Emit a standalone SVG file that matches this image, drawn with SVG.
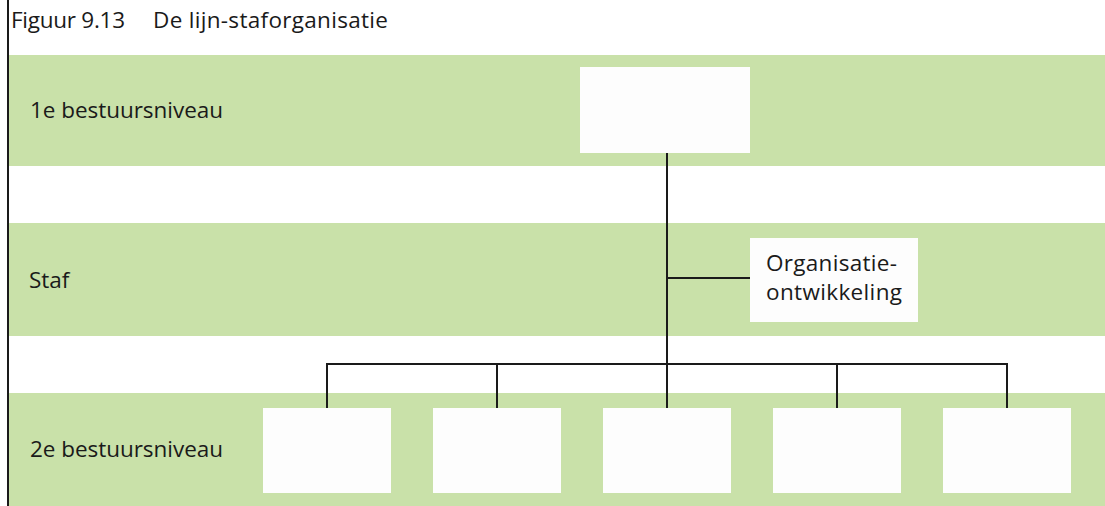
<svg xmlns="http://www.w3.org/2000/svg" width="1105" height="506" viewBox="0 0 1105 506">
  <style>
    .band { fill: #c9e1a9; }
    .box { fill: #fdfdfd; }
    .lbl { font-family: "Open Sans", "Noto Sans", sans-serif; font-size: 22.5px; fill: #1a1a1a; }
    .conn { stroke: #1a1a1a; stroke-width: 2; fill: none; }
  </style>
  <rect width="1105" height="506" fill="#ffffff"/>
  <!-- level bands -->
  <rect class="band" x="9" y="55" width="1096" height="111"/>
  <rect class="band" x="9" y="223" width="1096" height="113"/>
  <rect class="band" x="9" y="393" width="1096" height="113"/>
  <line x1="8" y1="0" x2="8" y2="506" stroke="#1a1a1a" stroke-width="2"/>
  <text class="lbl" x="11" y="28" textLength="114">Figuur 9.13</text>
  <text class="lbl" x="153" y="28" textLength="235">De lijn-staforganisatie</text>
  <text class="lbl" x="30" y="118" textLength="193">1e bestuursniveau</text>
  <text class="lbl" x="29" y="288">Staf</text>
  <text class="lbl" x="30" y="457" textLength="193">2e bestuursniveau</text>

  <g id="connectors">
    <line class="conn" x1="667" y1="153" x2="667" y2="408"/>
    <line class="conn" x1="667" y1="278" x2="750" y2="278"/>
    <line class="conn" x1="327" y1="364" x2="1007" y2="364"/>
    <line class="conn" x1="327" y1="363" x2="327" y2="408"/>
    <line class="conn" x1="497" y1="363" x2="497" y2="408"/>
    <line class="conn" x1="837" y1="363" x2="837" y2="408"/>
    <line class="conn" x1="1007" y1="363" x2="1007" y2="408"/>
  </g>

  <g id="top"><rect class="box" x="580" y="67" width="170" height="86"/></g>
  <g id="staf">
    <rect class="box" x="750" y="238" width="168" height="84"/>
    <text class="lbl" x="766" y="271" textLength="131">Organisatie-</text>
    <text class="lbl" x="766" y="300" textLength="136">ontwikkeling</text>
  </g>
  <g id="unit1"><rect class="box" x="263" y="408" width="128" height="85"/></g>
  <g id="unit2"><rect class="box" x="433" y="408" width="128" height="85"/></g>
  <g id="unit3"><rect class="box" x="603" y="408" width="128" height="85"/></g>
  <g id="unit4"><rect class="box" x="773" y="408" width="128" height="85"/></g>
  <g id="unit5"><rect class="box" x="943" y="408" width="128" height="85"/></g>
</svg>
